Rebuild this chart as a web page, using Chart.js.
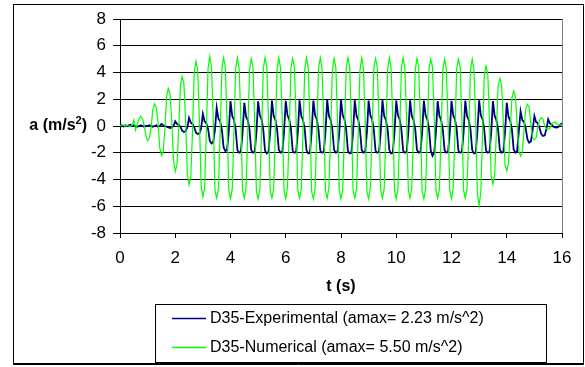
<!DOCTYPE html>
<html>
<head>
<meta charset="utf-8">
<script src="https://cdn.jsdelivr.net/npm/chart.js@4.4.1/dist/chart.umd.min.js"></script>
<style>
  html, body { margin: 0; padding: 0; background: #fff; }
  canvas { display: block; }
</style>
</head>
<body>
<canvas id="chart" width="585" height="367"></canvas>
<script>
// ================= DATA =================
// sampled every 0.0625 s, one row = one 0.5 s cycle
const timeStep = 0.0625;
const xTicks = [0, 2, 4, 6, 8, 10, 12, 14, 16];
const yTicks = [-8, -6, -4, -2, 0, 2, 4, 6, 8];

const expLabel = "D35-Experimental (amax= 2.23 m/s^2)";
const numLabel = "D35-Numerical (amax= 5.50 m/s^2)";

const expValues = [
    0.00, 0.05, -0.05, 0.05, 0.00, 0.05, 0.10, 0.00,
    0.05, 0.00, -0.05, 0.00, 0.05, 0.00, -0.05, 0.00,
    0.00, 0.05, 0.00, -0.05, 0.00, 0.05, -0.05, 0.00,
    0.15, 0.05, 0.00, -0.05, -0.10, -0.15, -0.10, 0.00,
    0.35, 0.15, 0.10, -0.05, -0.35, -0.45, -0.40, -0.10,
    0.60, 0.25, 0.15, -0.10, -0.50, -0.60, -0.55, -0.15,
    0.90, 0.35, 0.20, -0.20, -1.10, -1.30, -1.20, -0.30,
    1.37, 0.55, 0.35, -0.25, -1.60, -1.87, -1.80, -0.40,
    1.87, 0.75, 0.45, -0.25, -1.80, -2.00, -1.95, -0.50,
    1.74, 0.70, 0.45, -0.25, -1.80, -2.00, -1.95, -0.50,
    1.85, 0.80, 0.50, -0.30, -1.85, -2.05, -1.95, -0.45,
    1.90, 0.75, 0.45, -0.25, -1.80, -2.00, -1.95, -0.50,
    1.88, 0.80, 0.50, -0.20, -1.85, -2.00, -1.95, -0.50,
    1.92, 0.75, 0.45, -0.25, -1.80, -2.05, -2.00, -0.45,
    1.90, 0.80, 0.50, -0.30, -1.85, -2.00, -1.95, -0.50,
    1.95, 0.75, 0.45, -0.25, -1.80, -2.00, -1.95, -0.50,
    2.00, 0.80, 0.50, -0.25, -1.85, -2.05, -2.00, -0.45,
    1.92, 0.75, 0.45, -0.30, -1.80, -2.00, -1.95, -0.50,
    1.90, 0.80, 0.50, -0.25, -1.85, -2.00, -1.95, -0.50,
    1.93, 0.75, 0.45, -0.25, -1.80, -2.05, -2.00, -0.45,
    1.90, 0.80, 0.50, -0.30, -1.85, -2.00, -1.95, -0.50,
    1.92, 0.75, 0.45, -0.25, -1.80, -2.00, -1.95, -0.50,
    1.90, 0.80, 0.50, -0.25, -1.85, -2.23, -2.00, -0.45,
    1.87, 0.75, 0.45, -0.30, -1.80, -2.00, -1.95, -0.50,
    1.88, 0.80, 0.50, -0.25, -1.85, -2.00, -1.95, -0.50,
    1.90, 0.75, 0.45, -0.25, -1.80, -2.05, -2.00, -0.45,
    1.92, 0.80, 0.50, -0.30, -1.85, -2.00, -1.95, -0.50,
    1.87, 0.75, 0.45, -0.25, -1.80, -2.00, -1.95, -0.50,
    1.74, 0.70, 0.40, -0.25, -1.75, -2.00, -1.90, -0.40,
    1.10, 0.45, 0.30, -0.20, -1.00, -1.24, -1.15, -0.30,
    0.75, 0.30, 0.20, -0.15, -0.60, -0.75, -0.70, -0.20,
    0.50, 0.20, 0.10, -0.05, -0.10, -0.12, -0.05, 0.10,
    0.20
];

const numValues = [
    0.00, 0.10, 0.05, 0.00, 0.05, 0.00, -0.05, 0.05,
    0.45, -0.30, 0.15, 0.50, 0.72, 0.55, 0.05, -0.70,
    -1.10, -0.90, -0.10, 1.20, 1.65, 1.40, 0.30, -1.60,
    -2.20, -1.90, -0.20, 2.20, 2.80, 2.40, 0.30, -2.60,
    -3.40, -2.90, -0.30, 3.00, 3.70, 3.20, 0.40, -3.60,
    -4.40, -3.80, -0.40, 4.00, 4.85, 4.20, 0.40, -4.50,
    -5.30, -4.60, -0.50, 4.30, 5.20, 4.40, 0.50, -4.80,
    -5.40, -4.70, -0.50, 4.20, 5.10, 4.40, 0.40, -4.80,
    -5.45, -4.70, -0.40, 4.30, 5.10, 4.30, 0.50, -4.80,
    -5.40, -4.60, -0.50, 4.20, 5.05, 4.40, 0.40, -4.90,
    -5.45, -4.70, -0.50, 4.30, 5.10, 4.40, 0.50, -4.80,
    -5.40, -4.70, -0.40, 4.20, 5.10, 4.30, 0.40, -4.80,
    -5.45, -4.60, -0.50, 4.30, 5.05, 4.40, 0.50, -4.80,
    -5.40, -4.70, -0.50, 4.20, 5.10, 4.40, 0.40, -4.90,
    -5.45, -4.70, -0.40, 4.30, 5.10, 4.30, 0.50, -4.80,
    -5.40, -4.60, -0.50, 4.20, 5.05, 4.40, 0.40, -4.80,
    -5.45, -4.70, -0.50, 4.30, 5.10, 4.40, 0.50, -4.80,
    -5.40, -4.70, -0.40, 4.20, 5.10, 4.30, 0.40, -4.90,
    -5.45, -4.60, -0.50, 4.30, 5.05, 4.40, 0.50, -4.80,
    -5.40, -4.70, -0.50, 4.20, 5.10, 4.40, 0.40, -4.80,
    -5.45, -4.70, -0.40, 4.30, 5.10, 4.30, 0.50, -4.80,
    -5.40, -4.60, -0.50, 4.20, 5.05, 4.40, 0.40, -4.90,
    -5.45, -4.70, -0.50, 4.30, 5.00, 4.40, 0.50, -4.80,
    -5.40, -4.70, -0.40, 4.20, 5.00, 4.30, 0.40, -4.80,
    -5.45, -4.60, -0.50, 4.30, 5.00, 4.40, 0.50, -4.80,
    -5.40, -4.70, -0.50, 4.20, 5.00, 4.20, 0.40, -5.10,
    -5.95, -4.90, -0.50, 3.80, 4.48, 3.90, 0.40, -3.80,
    -4.35, -3.70, -0.40, 3.00, 3.56, 3.10, 0.30, -2.90,
    -3.36, -2.80, -0.30, 2.10, 2.60, 2.20, 0.20, -1.90,
    -2.24, -1.90, -0.20, 1.30, 1.62, 1.40, 0.10, -0.90,
    -1.04, -0.90, -0.10, 0.45, 0.62, 0.50, 0.00, -0.20,
    -0.25, -0.15, 0.10, 0.25, 0.30, 0.15, 0.05, 0.10,
    0.05
];

const expColor = "#000080";
const numColor = "#00ff00";
const fontFamily = '"Liberation Sans", Arial, sans-serif';

function toPoints(vals){
    return vals.map((v, i) => ({ x: i * timeStep, y: v }));
}

// ================= DECORATION =================
const framePlugin = {
    id: "frame",
    beforeDraw(chart){
        const ctx = chart.ctx;
        ctx.save();
        ctx.fillStyle = "#fff";
        ctx.fillRect(0, 0, chart.width, chart.height);
        ctx.restore();
    },
    afterDraw(chart){
        const ctx = chart.ctx;
        const a = chart.chartArea;
        ctx.save();

        // plot area right edge
        ctx.strokeStyle = "#808080";
        ctx.lineWidth = 1;
        ctx.beginPath();
        ctx.moveTo(Math.round(a.right) + 0.5, a.top);
        ctx.lineTo(Math.round(a.right) + 0.5, a.bottom);
        ctx.stroke();

        // outer frame
        ctx.strokeStyle = "#000";
        ctx.strokeRect(13.5, 4.5, 570, 359);
        ctx.beginPath();
        ctx.moveTo(13, 364.5);
        ctx.lineTo(584, 364.5);
        ctx.stroke();

        // axis titles
        ctx.fillStyle = "#000";
        ctx.font = "bold 16px " + fontFamily;
        ctx.textBaseline = "middle";
        ctx.textAlign = "center";
        ctx.fillText("t (s)", (a.left + a.right) / 2, 287);

        const yMid = chart.scales.y.getPixelForValue(0);
        ctx.textAlign = "left";
        const p1 = "a (m/s", p3 = ")";
        ctx.font = "bold 16px " + fontFamily;
        const w1 = ctx.measureText(p1).width;
        const w3 = ctx.measureText(p3).width;
        ctx.font = "bold 11px " + fontFamily;
        const w2 = ctx.measureText("2").width;
        let x0 = 87 - (w1 + w2 + w3);
        ctx.font = "bold 16px " + fontFamily;
        ctx.fillText(p1, x0, yMid);
        ctx.font = "bold 11px " + fontFamily;
        ctx.fillText("2", x0 + w1, yMid - 5);
        ctx.font = "bold 16px " + fontFamily;
        ctx.fillText(p3, x0 + w1 + w2, yMid);

        // legend box
        ctx.strokeRect(155.5, 304.5, 391, 58);
        const rows = [
            { label: expLabel, color: expColor, y: 318 },
            { label: numLabel, color: numColor, y: 347 }
        ];
        ctx.font = "16px " + fontFamily;
        rows.forEach(r => {
            ctx.strokeStyle = r.color;
            ctx.lineWidth = 1.5;
            ctx.beginPath();
            ctx.moveTo(172, r.y + 0.5);
            ctx.lineTo(206, r.y + 0.5);
            ctx.stroke();
            ctx.fillStyle = "#000";
            ctx.fillText(r.label, 210, r.y + 1);
        });

        ctx.restore();
    }
};

// ================= CHART =================
const chart = new Chart(document.getElementById("chart").getContext("2d"), {
    type: "line",
    data: {
        datasets: [
            {
                label: expLabel,
                data: toPoints(expValues),
                borderColor: expColor,
                borderWidth: 1.8,
                pointRadius: 0,
                tension: 0,
                order: 1
            },
            {
                label: numLabel,
                data: toPoints(numValues),
                borderColor: numColor,
                borderWidth: 1.2,
                pointRadius: 0,
                tension: 0,
                order: 0
            }
        ]
    },
    options: {
        responsive: false,
        animation: false,
        devicePixelRatio: 1,
        layout: { padding: { top: 19, right: 23, left: 0, bottom: 0 } },
        font: { family: fontFamily },
        plugins: {
            legend: { display: false },
            tooltip: { enabled: false }
        },
        scales: {
            x: {
                type: "linear",
                min: 0,
                max: 16,
                afterFit(s){ s.height = 134; },
                afterBuildTicks(s){ s.ticks = xTicks.map(v => ({ value: v })); },
                grid: { drawOnChartArea: false, drawTicks: true, tickLength: 5, color: "#000" },
                border: { color: "#000" },
                ticks: { color: "#000", padding: 10, font: { family: fontFamily, size: 17 }, maxRotation: 0 }
            },
            y: {
                min: -8,
                max: 8,
                afterFit(s){ s.width = 120; },
                afterBuildTicks(s){ s.ticks = yTicks.map(v => ({ value: v })); },
                grid: { color: "#000", tickLength: 7 },
                border: { color: "#000" },
                ticks: { color: "#000", padding: 7, font: { family: fontFamily, size: 17 } }
            }
        }
    },
    plugins: [framePlugin]
});
</script>
</body>
</html>
